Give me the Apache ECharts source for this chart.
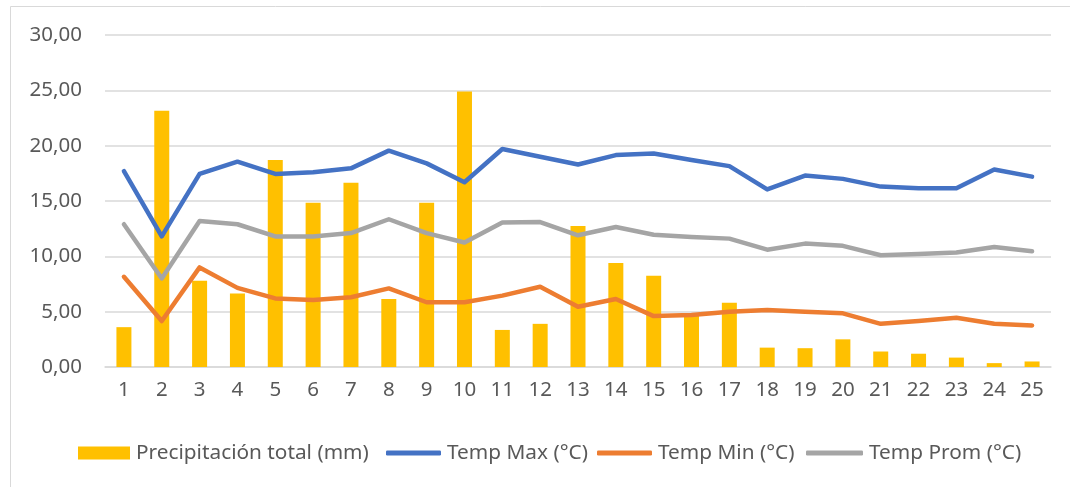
<!DOCTYPE html>
<html>
<head>
<meta charset="utf-8">
<script src="https://cdn.jsdelivr.net/npm/echarts@6/dist/echarts.min.js"></script>
<style>
html,body{margin:0;padding:0;background:#fff;}
#c{width:1070px;height:487px;}
</style>
</head>
<body>
<div id="c"></div>
<script>
const categories = ['1','2','3','4','5','6','7','8','9','10','11','12','13','14','15','16','17','18','19','20','21','22','23','24','25'];
const precipitacion = [3.6,23.15,7.8,6.65,18.7,14.85,16.65,6.15,14.85,24.9,3.35,3.9,12.75,9.4,8.25,4.8,5.8,1.75,1.7,2.5,1.4,1.2,0.85,0.35,0.5];
const tempMax = [17.7,11.8,17.45,18.55,17.45,17.6,17.95,19.55,18.4,16.7,19.7,19.0,18.3,19.15,19.3,18.7,18.15,16.05,17.3,17.0,16.3,16.15,16.15,17.85,17.2];
const tempMin = [8.15,4.15,9.0,7.15,6.2,6.05,6.3,7.1,5.85,5.85,6.45,7.25,5.45,6.15,4.6,4.7,5.0,5.15,5.0,4.85,3.9,4.15,4.45,3.9,3.75];
const tempProm = [12.9,8.0,13.2,12.9,11.8,11.8,12.1,13.35,12.1,11.25,13.05,13.1,11.9,12.65,11.95,11.75,11.6,10.6,11.15,10.95,10.1,10.2,10.35,10.85,10.45];
const yTicks = { min: 0, max: 30, interval: 5 };
const names = ['Precipitación total (mm)','Temp Max (°C)','Temp Min (°C)','Temp Prom (°C)'];

const FONT = 'Noto Sans';
const TXT = '#595959';
const chart = echarts.init(document.getElementById('c'), null, {renderer:'canvas'});
function lg(name, left, w, h, icon){
  return {
    data:[name], left:left, top:441, itemWidth:w, itemHeight:h, icon:icon,
    itemGap:0, padding:0, selectedMode:false,
    textStyle:{color:TXT, fontFamily:FONT, fontSize:20.8, lineHeight:24, padding:[0,0,0,1]}
  };
}
chart.setOption({
  animation:false,
  graphic:[{type:'rect', shape:{x:10.5,y:6.5,width:1200,height:600}, style:{fill:'none', stroke:'#d9d9d9', lineWidth:1}, silent:true}],
  grid:{left:105, right:19, top:35, bottom:120, containLabel:false},
  legend:[
    lg(names[0], 78, 52, 13, 'rect'),
    lg(names[1], 386, 55, 5, 'roundRect'),
    lg(names[2], 597, 55, 5, 'roundRect'),
    lg(names[3], 806, 57, 5, 'roundRect')
  ],
  xAxis:{
    type:'category', data:categories,
    axisLine:{lineStyle:{color:'#d9d9d9', width:1.5}},
    axisTick:{show:false},
    axisLabel:{color:TXT, fontFamily:FONT, fontSize:20.5, margin:13}
  },
  yAxis:{
    type:'value', min:yTicks.min, max:yTicks.max, interval:yTicks.interval,
    axisLine:{show:false}, axisTick:{show:false},
    splitLine:{lineStyle:{color:'#d9d9d9', width:1.5}},
    axisLabel:{color:TXT, fontFamily:FONT, fontSize:20.5, margin:23,
      formatter:v=>v.toFixed(2).replace('.',',')}
  },
  series:[
    {name:names[0], type:'bar', data:precipitacion, barWidth:15, itemStyle:{color:'#FFC000'}, z:1},
    {name:names[1], type:'line', data:tempMax, symbol:'none', lineStyle:{color:'#4472C4', width:4.5, cap:'round', join:'round'}, itemStyle:{color:'#4472C4'}, z:3},
    {name:names[2], type:'line', data:tempMin, symbol:'none', lineStyle:{color:'#ED7D31', width:4.5, cap:'round', join:'round'}, itemStyle:{color:'#ED7D31'}, z:3},
    {name:names[3], type:'line', data:tempProm, symbol:'none', lineStyle:{color:'#A5A5A5', width:4.5, cap:'round', join:'round'}, itemStyle:{color:'#A5A5A5'}, z:3}
  ]
});
</script>
</body>
</html>
